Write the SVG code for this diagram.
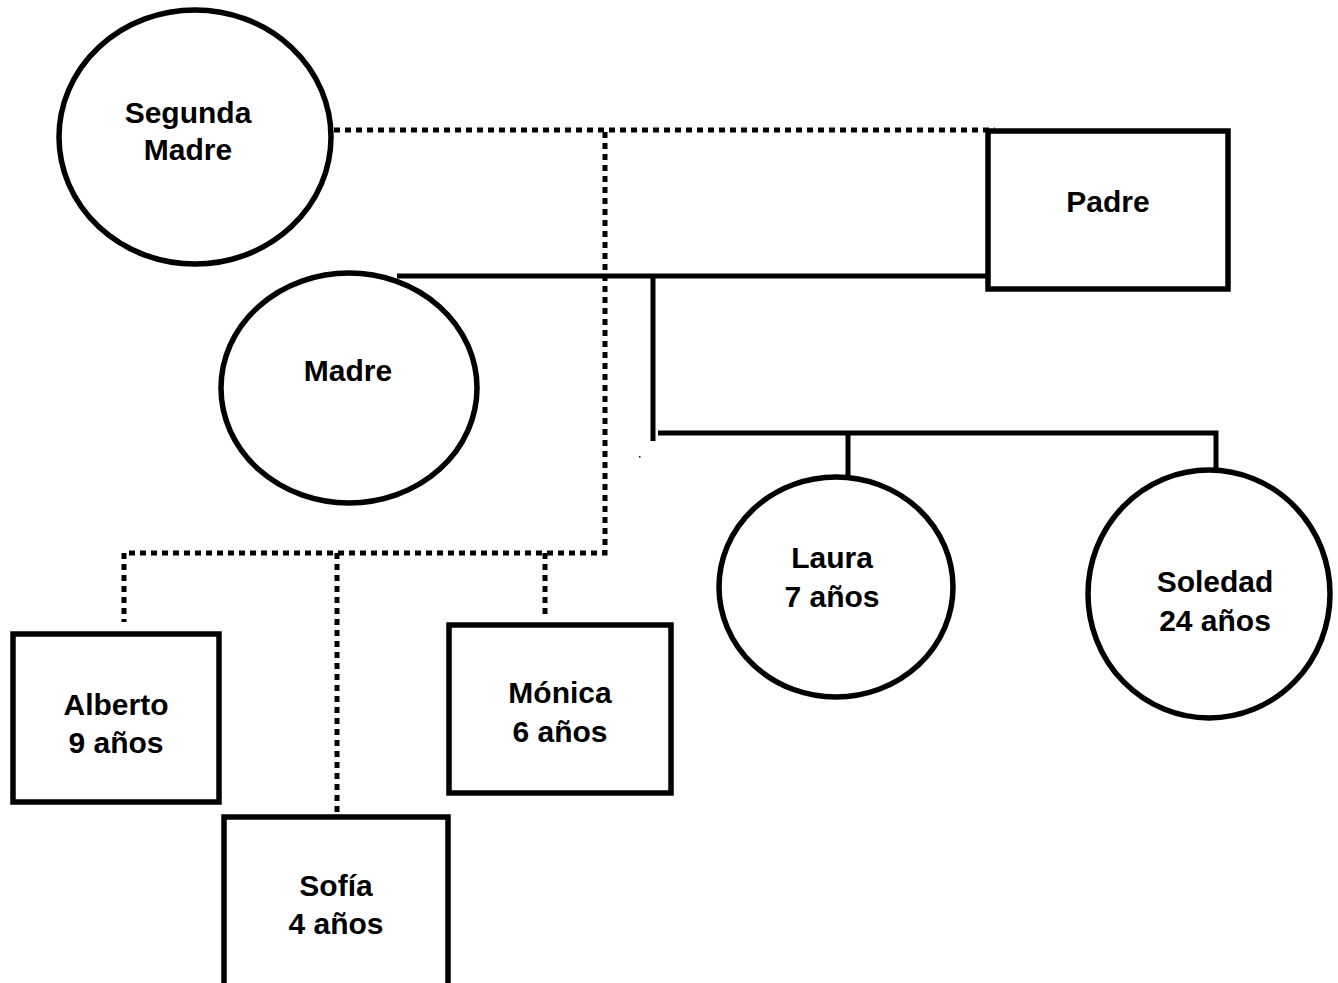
<svg xmlns="http://www.w3.org/2000/svg" width="1338" height="983" viewBox="0 0 1338 983">
<style>
.n{fill:#fff;stroke:#000;stroke-width:5.5}
.t{font-family:"Liberation Sans",Arial,sans-serif;font-weight:bold;font-size:30px;fill:#000;text-anchor:middle}
.s{fill:none;stroke:#000;stroke-width:5}
.d{fill:none;stroke:#000;stroke-width:5;stroke-dasharray:6 5}
</style>
<rect width="1338" height="983" fill="#fff"/>
<g id="connectors">
<path class="d" d="M334 130H995"/>
<path class="d" d="M605 132V553H124V622"/>
<path class="d" d="M337 553V812"/>
<path class="d" d="M545 553V618"/>
<path class="s" d="M397 276H988"/>
<path class="s" d="M653 276V441"/>
<path class="s" d="M658 433H1216V478"/>
<path class="s" d="M848 433V478"/>
<rect x="639" y="456" width="1.5" height="1.5" fill="#000"/>
</g>
<g id="segunda-madre">
<ellipse class="n" cx="195" cy="137" rx="136" ry="127"/>
<text class="t" x="188" y="123">Segunda</text>
<text class="t" x="188" y="160">Madre</text>
</g>
<g id="padre">
<rect class="n" x="988" y="131" width="240" height="158"/>
<text class="t" x="1108" y="212">Padre</text>
</g>
<g id="madre">
<ellipse class="n" cx="349" cy="388" rx="128" ry="115"/>
<text class="t" x="348" y="381">Madre</text>
</g>
<g id="laura">
<ellipse class="n" cx="836" cy="587" rx="117" ry="110"/>
<text class="t" x="832" y="568">Laura</text>
<text class="t" x="832" y="607">7 años</text>
</g>
<g id="soledad">
<ellipse class="n" cx="1209" cy="594" rx="121" ry="124"/>
<text class="t" x="1215" y="592">Soledad</text>
<text class="t" x="1215" y="631">24 años</text>
</g>
<g id="alberto">
<rect class="n" x="13" y="634" width="206" height="168"/>
<text class="t" x="116" y="715">Alberto</text>
<text class="t" x="116" y="753">9 años</text>
</g>
<g id="monica">
<rect class="n" x="449" y="625" width="222" height="168"/>
<text class="t" x="560" y="703">Mónica</text>
<text class="t" x="560" y="742">6 años</text>
</g>
<g id="sofia">
<rect class="n" x="224" y="817" width="224" height="175"/>
<text class="t" x="336" y="896">Sofía</text>
<text class="t" x="336" y="934">4 años</text>
</g>
</svg>
